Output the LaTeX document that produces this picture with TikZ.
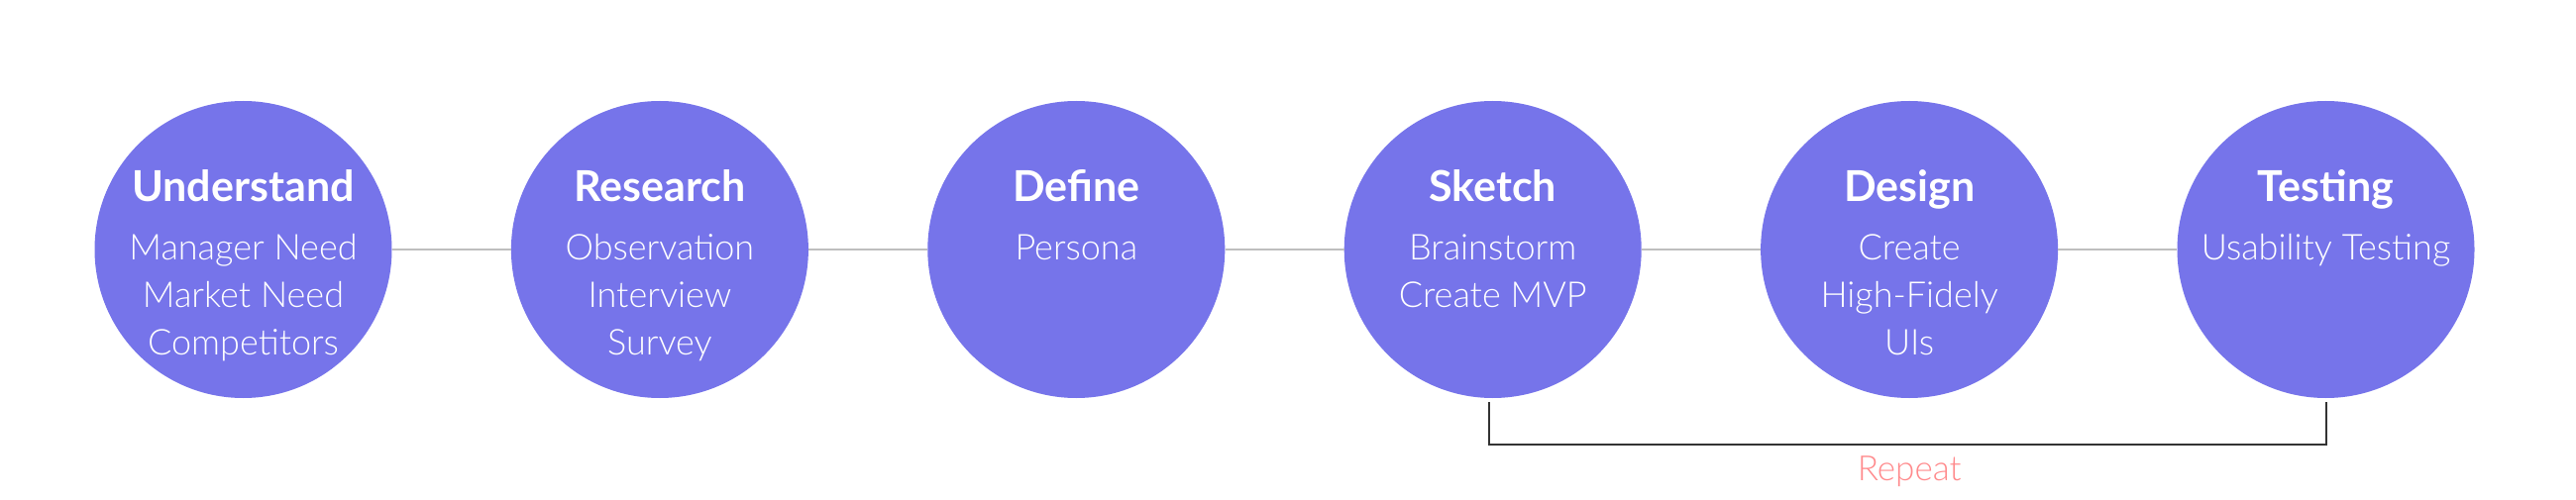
\documentclass[tikz,border=0pt]{standalone}
\usepackage{fontspec}
\setmainfont{Lato}
\newfontfamily\lightfont{Lato Light}
\definecolor{circfill}{RGB}{118,116,234}
\definecolor{linegray}{RGB}{190,190,190}
\definecolor{bracketgray}{RGB}{51,51,51}
\definecolor{repeatpink}{RGB}{255,138,140}
\begin{document}
\begin{tikzpicture}[x=1pt,y=-1pt,
  circ/.style={circle,fill=circfill,minimum size=300pt,inner sep=0pt,draw=none},
  ttl/.style={anchor=base,text=white,font=\fontsize{43}{48}\selectfont\bfseries,inner sep=0pt},
  bod/.style={anchor=base,text=white,font=\fontsize{36}{44}\selectfont\lightfont,inner sep=0pt},
  conn/.style={draw=linegray,line width=2pt},
  rep/.style={draw=bracketgray,line width=2pt},
  replbl/.style={anchor=base,text=repeatpink,font=\fontsize{35}{40}\selectfont\lightfont,inner sep=0pt}]
\useasboundingbox[fill=white] (0,0) rectangle (2600,505);
% circles
\node[circ] (u) at (245.5,252) {};
\node[circ] (r) at (665.9,252) {};
\node[circ] (d) at (1086.3,252) {};
\node[circ] (s) at (1506.7,252) {};
\node[circ] (g) at (1927.1,252) {};
\node[circ] (t) at (2347.5,252) {};
% connectors
\draw[conn] (u) -- (r);
\draw[conn] (r) -- (d);
\draw[conn] (d) -- (s);
\draw[conn] (s) -- (g);
\draw[conn] (g) -- (t);
% titles
\node[ttl] (ut) at (245.5,204) {Understand};
\node[ttl] (rt) at (665.9,204) {Research};
\node[ttl] (dt) at (1086.3,204) {Define};
\node[ttl] (st) at (1506.7,204) {Sketch};
\node[ttl] (gt) at (1927.1,204) {Design};
\node[ttl] (tt) at (2347.5,204) {Testing};
% body lines
\node[bod] (u1) at (245.5,262) {Manager Need};
\node[bod] (u2) at (245.5,310) {Market Need};
\node[bod] (u3) at (245.5,358) {Competitors};
\node[bod] (r1) at (665.9,262) {Observation};
\node[bod] (r2) at (665.9,310) {Interview};
\node[bod] (r3) at (665.9,358) {Survey};
\node[bod] (d1) at (1086.3,262) {Persona};
\node[bod] (s1) at (1506.7,262) {Brainstorm};
\node[bod] (s2) at (1506.7,310) {Create MVP};
\node[bod] (g1) at (1927.1,262) {Create};
\node[bod] (g2) at (1927.1,310) {High-Fidely};
\node[bod] (g3) at (1927.1,358) {UIs};
\node[bod] (t1) at (2347.5,262) {Usability Testing};
% repeat bracket
\coordinate (b1) at (1503,406);
\coordinate (b2) at (2347.5,406);
\draw[rep] (b1) -- ++(0,43) -| (b2);
\node[replbl] (rl) at (1927.1,485) {Repeat};
\end{tikzpicture}
\end{document}
